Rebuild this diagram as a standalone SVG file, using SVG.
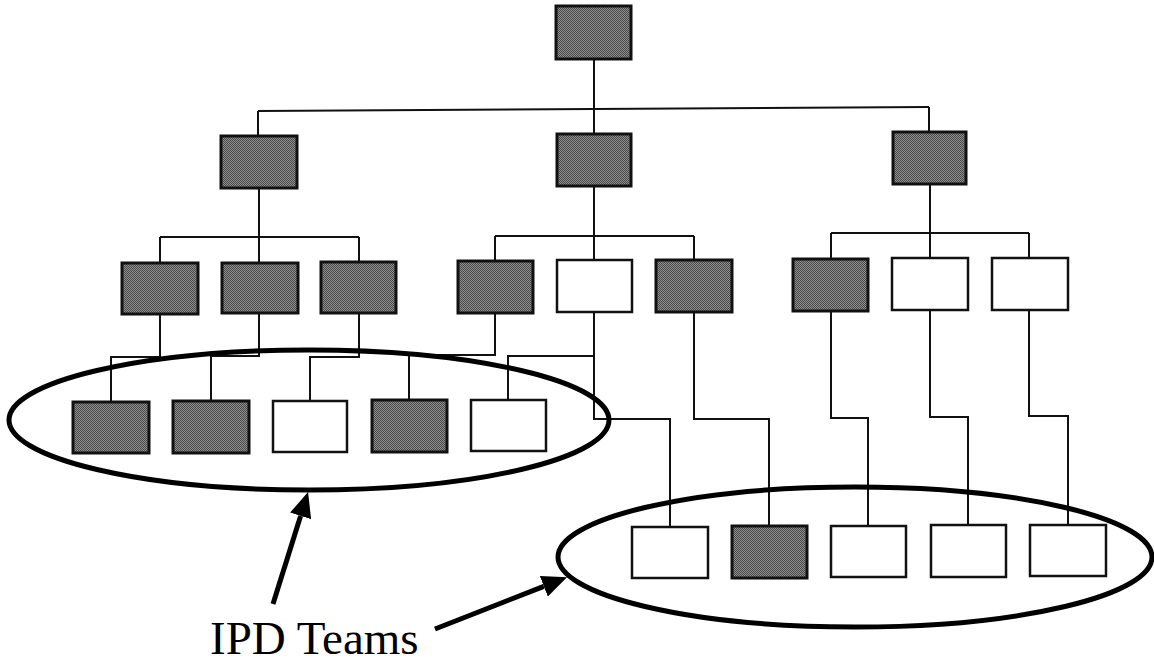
<svg xmlns="http://www.w3.org/2000/svg" width="1154" height="665" viewBox="0 0 1154 665">
<defs>
<pattern id="dots" width="2" height="2" patternUnits="userSpaceOnUse">
<rect width="2" height="2" fill="#8e8e8e"/>
<rect width="1" height="1" fill="#4a4a4a"/>
<rect x="1" y="1" width="1" height="1" fill="#4a4a4a"/>
</pattern>
<marker id="head" viewBox="0 0 25 22" markerUnits="userSpaceOnUse" markerWidth="25" markerHeight="22" refX="0" refY="11" orient="auto">
<path d="M0,0 L25,11 L0,22 z" fill="#000"/>
</marker>
</defs>
<style>
.dark{fill:url(#dots);stroke:#111;stroke-width:3}
.white{fill:#fff;stroke:#111;stroke-width:2.5}
.conn{fill:none;stroke:#111;stroke-width:2}
.team{fill:none;stroke:#000;stroke-width:5}
.arrow{fill:none;stroke:#000;stroke-width:5}
.label{font-family:"Liberation Serif","Times New Roman",serif;font-size:47px;fill:#000}
</style>
<rect width="1154" height="665" fill="#fff"/>
<g id="connectors" class="conn">
<path d="M594,59 V109"/>
<path d="M258,111 L929,107"/>
<path d="M258,111 V136"/>
<path d="M594,109 V134"/>
<path d="M929,107 V132"/>
<path d="M259,188 V263"/>
<path d="M160,237 H359"/>
<path d="M160,237 V263"/>
<path d="M359,237 V262"/>
<path d="M594,186 V260"/>
<path d="M495,236 H694"/>
<path d="M495,236 V261"/>
<path d="M694,236 V260"/>
<path d="M930,184 V258"/>
<path d="M831,233 H1029"/>
<path d="M831,233 V259"/>
<path d="M1029,233 V258"/>
<path d="M160,314 V357 H111 V402"/>
<path d="M259,313 V356 H211 V401"/>
<path d="M359,313 V357 H310 V401"/>
<path d="M495,313 V355 H409 V400"/>
<path d="M594,312 V419 H670 V527"/>
<path d="M594,356 H508 V400"/>
<path d="M694,312 V419 H769 V526"/>
<path d="M831,311 V418 H868 V526"/>
<path d="M930,310 V417 H968 V525"/>
<path d="M1029,310 V416 H1068 V525"/>
</g>
<g id="n-top"><rect class="dark" x="556" y="6" width="75" height="53"/></g>
<g id="n-l2-a"><rect class="dark" x="221" y="136" width="76" height="52"/></g>
<g id="n-l2-b"><rect class="dark" x="557" y="134" width="74" height="52"/></g>
<g id="n-l2-c"><rect class="dark" x="893" y="132" width="73" height="52"/></g>
<g id="n-l3-1"><rect class="dark" x="122" y="263" width="76" height="51"/></g>
<g id="n-l3-2"><rect class="dark" x="222" y="263" width="76" height="50"/></g>
<g id="n-l3-3"><rect class="dark" x="321" y="262" width="75" height="51"/></g>
<g id="n-l3-4"><rect class="dark" x="458" y="261" width="75" height="52"/></g>
<g id="n-l3-5"><rect class="white" x="557" y="260" width="75" height="52"/></g>
<g id="n-l3-6"><rect class="dark" x="656" y="260" width="76" height="52"/></g>
<g id="n-l3-7"><rect class="dark" x="793" y="259" width="75" height="52"/></g>
<g id="n-l3-8"><rect class="white" x="892" y="258" width="76" height="52"/></g>
<g id="n-l3-9"><rect class="white" x="992" y="258" width="76" height="52"/></g>
<g id="n-t1-1"><rect class="dark" x="73" y="402" width="76" height="51"/></g>
<g id="n-t1-2"><rect class="dark" x="173" y="401" width="76" height="52"/></g>
<g id="n-t1-3"><rect class="white" x="273" y="401" width="74" height="51"/></g>
<g id="n-t1-4"><rect class="dark" x="372" y="400" width="75" height="52"/></g>
<g id="n-t1-5"><rect class="white" x="471" y="400" width="75" height="51"/></g>
<g id="n-t2-1"><rect class="white" x="632" y="527" width="76" height="51"/></g>
<g id="n-t2-2"><rect class="dark" x="732" y="526" width="75" height="52"/></g>
<g id="n-t2-3"><rect class="white" x="831" y="526" width="75" height="51"/></g>
<g id="n-t2-4"><rect class="white" x="931" y="525" width="75" height="52"/></g>
<g id="n-t2-5"><rect class="white" x="1030" y="525" width="76" height="51"/></g>
<g id="team-left"><ellipse class="team" cx="309" cy="420" rx="300" ry="70"/></g>
<g id="team-right"><ellipse class="team" cx="855" cy="557" rx="297" ry="70"/></g>
<g id="annotation">
<path class="arrow" d="M273,604 L300.6,515.9" marker-end="url(#head)"/>
<path class="arrow" d="M435,629 L543.8,586.3" marker-end="url(#head)"/>
<text class="label" x="210" y="654">IPD Teams</text>
</g>
</svg>
